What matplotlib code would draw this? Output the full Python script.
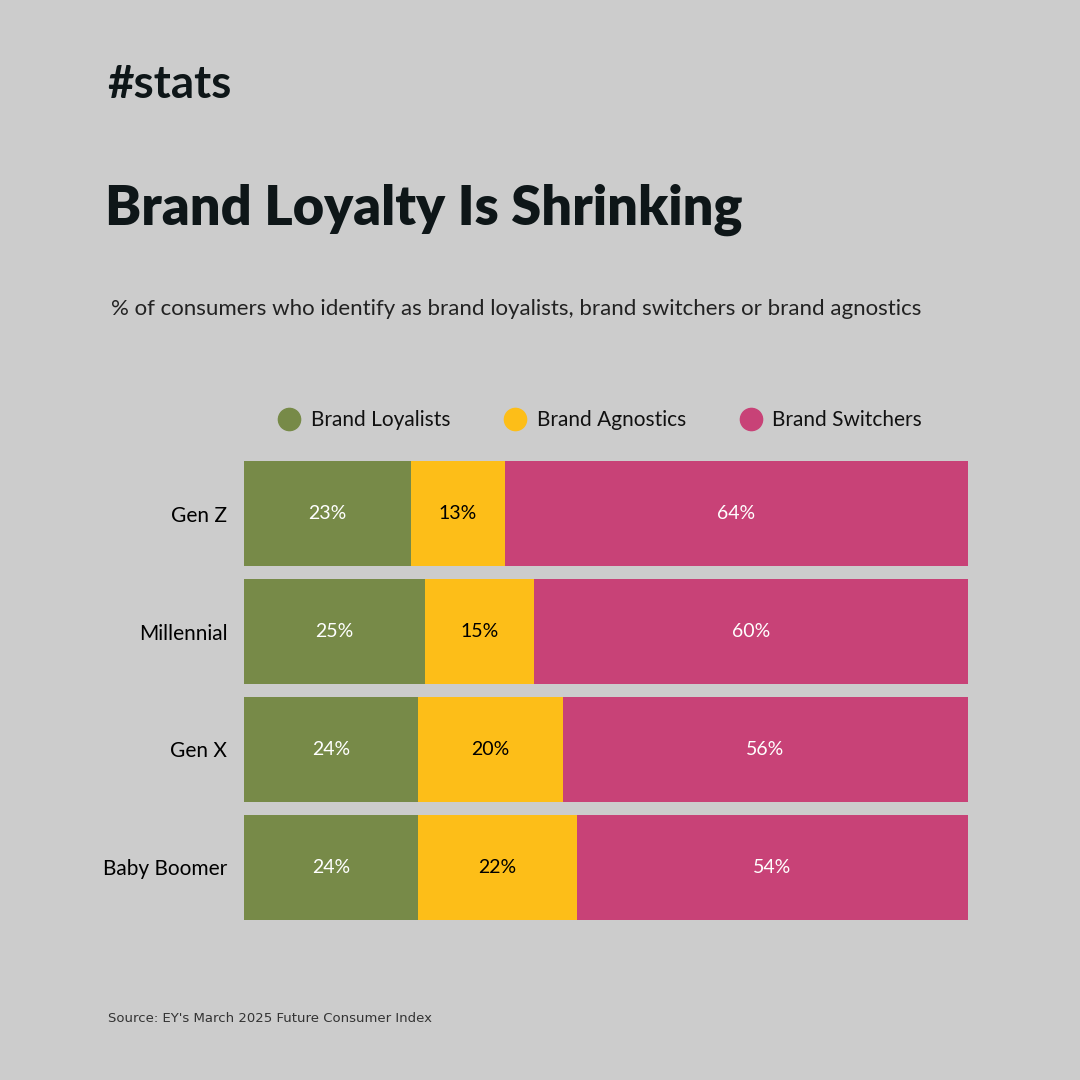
import matplotlib.pyplot as plt
from matplotlib.lines import Line2D
import numpy as np

plt.rcParams['font.family'] = ['Lato', 'DejaVu Sans']

generations = ['Gen Z', 'Millennial', 'Gen X', 'Baby Boomer']
loyalists = [23, 25, 24, 24]
agnostics = [13, 15, 20, 22]
switchers = [64, 60, 56, 54]

series_names = ['Brand Loyalists', 'Brand Agnostics', 'Brand Switchers']
colors = ['#778A48', '#FDBE18', '#C84277']
label_colors = ['white', 'black', 'white']

bg = '#CCCCCC'
ink = '#0E1618'

fig = plt.figure(figsize=(10.8, 10.8), dpi=100, facecolor=bg)
ax = fig.add_axes([244 / 1080, 1 - 920 / 1080, 724 / 1080, 459 / 1080])
ax.set_facecolor(bg)

y = np.arange(len(generations))
left = np.zeros(len(generations))
for vals, name, col, lc in zip([loyalists, agnostics, switchers], series_names, colors, label_colors):
    bars = ax.barh(y, vals, left=left, height=0.89, color=col, label=name)
    ax.bar_label(bars, labels=[f'{v}%' for v in vals], label_type='center',
                 color=lc, fontsize=14)
    left += np.array(vals)

ax.set_xlim(0, 100)
ax.set_ylim(len(generations) - 0.555, -0.445)
ax.set_yticks(y, generations)
ax.tick_params(axis='y', length=0, pad=12, labelsize=15, labelcolor='black')
ax.set_xticks([])
for s in ax.spines.values():
    s.set_visible(False)

handles = [Line2D([], [], marker='o', linestyle='', markersize=16, color=c) for c in colors]
fig.legend(handles, series_names, loc='center', bbox_to_anchor=(0.551, 1 - 420 / 1080),
           ncol=3, frameon=False, fontsize=15, handletextpad=0.05, columnspacing=2.1,
           labelcolor='#111111')

fig.text(107 / 1080, 1 - 85 / 1080, '#stats', fontsize=33, fontweight='bold',
         color=ink, va='center', ha='left')
fig.text(105 / 1080, 1 - 210 / 1080, 'Brand Loyalty Is Shrinking', fontsize=39,
         fontweight='heavy', color=ink, va='center', ha='left')
fig.text(111 / 1080, 1 - 309 / 1080,
         '% of consumers who identify as brand loyalists, brand switchers or brand agnostics',
         fontsize=16, color='#222222', va='center', ha='left')
fig.text(108 / 1080, 1 - 1018 / 1080, "Source: EY's March 2025 Future Consumer Index",
         fontsize=9.5, color='#333333', va='center', ha='left', family='DejaVu Sans')

fig.savefig('out.png', dpi=100, facecolor=bg)
